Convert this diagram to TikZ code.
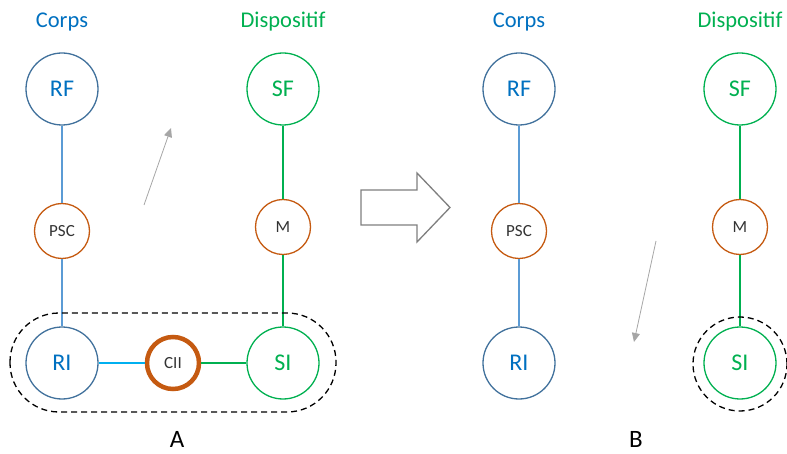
\documentclass[tikz,border=0pt]{standalone}
\usepackage{fontspec}
\setmainfont{Carlito}
\usetikzlibrary{arrows.meta}
\definecolor{cblue}{HTML}{0070C0}
\definecolor{cedge}{HTML}{41719C}
\definecolor{lblue}{HTML}{5B9BD5}
\definecolor{cgreen}{HTML}{00B050}
\definecolor{corange}{HTML}{C55A11}
\definecolor{cyanl}{HTML}{00B0F0}
\definecolor{agray}{HTML}{A6A6A6}
\definecolor{bgray}{HTML}{7F7F7F}
\begin{document}
\begin{tikzpicture}[x=1pt,y=-1pt,
  big/.style={circle,draw,line width=1.3pt,minimum size=72pt,inner sep=0pt,font=\fontsize{24}{24}\selectfont},
  bnode/.style={big,draw=cedge,text=cblue},
  gnode/.style={big,draw=cgreen,text=cgreen},
  small/.style={circle,draw=corange,line width=1.3pt,minimum size=55pt,inner sep=0pt,font=\fontsize{17}{17}\selectfont,text=black!80},
  title/.style={font=\fontsize{22.5}{22.5}\selectfont},
  blink/.style={draw=lblue,line width=1.3pt},
  glink/.style={draw=cgreen,line width=1.5pt},
  garrow/.style={draw=agray,line width=0.8pt,-{Triangle[length=9pt,width=8pt]}},
  lab/.style={font=\fontsize{25}{25}\selectfont,inner sep=0pt,anchor=base}]
\useasboundingbox (0,0) rectangle (787,454);
% left
\node[title,text=cblue] (t1) at (62,22) {Corps};
\node[title,text=cgreen] (t2) at (283,22) {Dispositif};
\node[bnode] (RF) at (62,89) {RF};
\node[small] (PSC) at (62,231) {PSC};
\node[bnode] (RI) at (62,363) {RI};
\node[gnode] (SF) at (283,89) {SF};
\node[small] (M) at (283,227) {M};
\node[gnode] (SI) at (283,363) {SI};
\node[circle,draw=corange,line width=4.5pt,minimum size=52pt,inner sep=0pt,font=\fontsize{17}{17}\selectfont,text=black!80] (CII) at (173,363) {CII};
\draw[blink] (RF) -- (PSC);
\draw[blink] (PSC) -- (RI);
\draw[glink] (SF) -- (M);
\draw[glink] (M) -- (SI);
\draw[draw=cyanl,line width=1.5pt] (RI) -- (CII);
\draw[glink] (CII) -- (SI);
\draw[dashed,line width=1.3pt,dash pattern=on 6pt off 4pt,rounded corners=49pt] (10,313) rectangle (336,412);
\coordinate (a1s) at (144,205);
\coordinate (a1e) at (171,128);
\draw[garrow] (a1s) -- (a1e);
\node[lab] (A) at (177,447) {A};
% big arrow
\draw[draw=bgray,line width=1.3pt,fill=white] (361,190) -- (417,190) -- (417,173) -- (450,207.5) -- (417,242) -- (417,225) -- (361,225) -- cycle;
% right
\node[title,text=cblue] (t3) at (519,22) {Corps};
\node[title,text=cgreen] (t4) at (740,22) {Dispositif};
\node[bnode] (RF2) at (519,89) {RF};
\node[small] (PSC2) at (519,231) {PSC};
\node[bnode] (RI2) at (519,363) {RI};
\node[gnode] (SF2) at (740,89) {SF};
\node[small] (M2) at (740,227) {M};
\node[gnode] (SI2) at (740,363) {SI};
\draw[blink] (RF2) -- (PSC2);
\draw[blink] (PSC2) -- (RI2);
\draw[glink] (SF2) -- (M2);
\draw[glink] (M2) -- (SI2);
\node[circle,draw,dashed,line width=1.3pt,dash pattern=on 6pt off 4pt,minimum size=94pt] (D2) at (740,364) {};
\coordinate (a2s) at (656,241);
\coordinate (a2e) at (634,342);
\draw[garrow] (a2s) -- (a2e);
\node[lab] (B) at (636,447) {B};
\end{tikzpicture}
\end{document}
